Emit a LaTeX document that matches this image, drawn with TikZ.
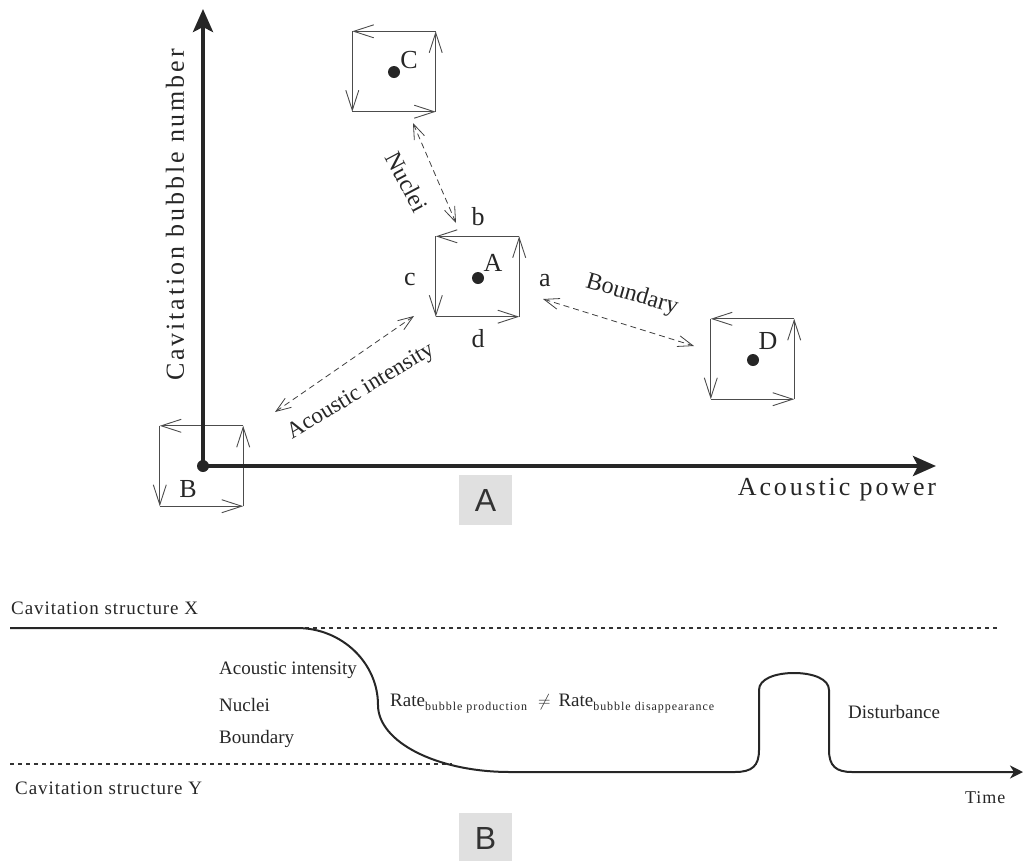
\documentclass[tikz,border=0pt]{standalone}
\usepackage{fontspec}
\setmainfont{Liberation Serif}
\newfontfamily\lsans{Liberation Sans}
\newfontfamily\wide[LetterSpace=11]{Liberation Serif}
\newfontfamily\slight[LetterSpace=5]{Liberation Serif}
\newfontfamily\subsp[LetterSpace=8]{Liberation Serif}
\usetikzlibrary{arrows.meta}
\begin{document}
\begin{tikzpicture}[x=1pt,y=-1pt,
  sq/.style={draw=none, minimum width=83pt, minimum height=80pt, inner sep=0pt},
  side/.style={draw=black!70, line width=0.9pt, -{Straight Barb[length=20pt,width=13pt,line width=0.9pt]}},
  dot/.style={circle, fill=black!85, inner sep=0pt, minimum size=12pt},
  dbl/.style={draw=black!75, line width=0.8pt, dash pattern=on 6pt off 4pt,
     {Straight Barb[length=15pt,width=11pt,line width=0.8pt]}-{Straight Barb[length=15pt,width=11pt,line width=0.8pt]}},
  lbl/.style={font=\fontsize{26}{28}\selectfont, text=black!85, inner sep=0pt},
  alab/.style={font=\fontsize{24}{26}\selectfont, text=black!85, inner sep=0pt},
  axlbl/.style={font=\wide\fontsize{26}{28}\selectfont, text=black!85, inner sep=0pt},
  btxt/.style={font=\fontsize{19}{21}\selectfont, text=black!85, inner sep=0pt, anchor=west},
  stxt/.style={btxt, font=\slight\fontsize{19}{21}\selectfont},
  axis/.style={line width=4pt, draw=black!85, -{Stealth[length=23pt,width=20pt,inset=5pt]}},
  tag/.style={fill=black!12, minimum width=53pt, minimum height=50pt, inner sep=0pt, font=\lsans\fontsize{32}{32}\selectfont, text=black!80},
  curve/.style={line width=2pt, draw=black!85},
  dline/.style={line width=1.3pt, draw=black!80, dash pattern=on 4pt off 4pt}
]
\path[use as bounding box] (0,0) rectangle (1026,860);

% ---------- Part A ----------
% squares
\node[sq] (sqB) at (201.5,466) {};
\node[sq] (sqC) at (394,71.5) {};
\node[sq] (sqA) at (477.5,276.5) {};
\node[sq] (sqD) at (752.5,359) {};
\foreach \s in {sqA,sqB,sqC,sqD}{
  \draw[side] (\s.north east) -- (\s.north west);
  \draw[side] (\s.north west) -- (\s.south west);
  \draw[side] (\s.south west) -- (\s.south east);
  \draw[side] (\s.south east) -- (\s.north east);
}

% axes
\node[dot] (B) at (203,466) {};
\coordinate (ytip) at (203,9);
\coordinate (xtip) at (936,466);
\draw[axis] (B.center) -- (ytip);
\draw[axis] (B.center) -- (xtip);

% dots
\node[dot] (C) at (394,72) {};
\node[dot] (A) at (478,278) {};
\node[dot] (D) at (753,360) {};

% letters
\node[lbl] (lB) at (188,489) {B};
\node[lbl] (lC) at (409,60) {C};
\node[lbl] (lA) at (493,263) {A};
\node[lbl] (lD) at (768,341) {D};
\node[lbl] (la) at (545,281) {a};
\node[lbl] (lb) at (478,217) {b};
\node[lbl] (lc) at (410,279) {c};
\node[lbl] (ld) at (478,339) {d};

% dashed double arrows
\coordinate (n1) at (413,123);
\coordinate (n2) at (456,223);
\draw[dbl] (n1) -- (n2);
\coordinate (i1) at (275,412);
\coordinate (i2) at (414,316);
\draw[dbl] (i1) -- (i2);
\coordinate (b1) at (543,299);
\coordinate (b2) at (694,346);
\draw[dbl] (b1) -- (b2);

\node[alab, rotate=-62] (tN) at (407,182) {Nuclei};
\node[alab, font=\fontsize{23}{25}\selectfont, rotate=31] (tI) at (361,392) {Acoustic intensity};
\node[alab, rotate=-16] (tBd) at (632,295) {Boundary};

% axis labels
\node[axlbl, rotate=90] (ylab) at (175,215) {Cavitation bubble number};
\node[axlbl] (xlab) at (837,490) {Acoustic power};

\node[tag] (tagA) at (485.5,500) {A};

% ---------- Part B ----------
\node[stxt] (sX) at (11,608) {Cavitation structure X};
\node[stxt] (sY) at (15,788) {Cavitation structure Y};

\coordinate (p0) at (10,628);
\coordinate (p1) at (297,628);
\coordinate (p2) at (378,705);
\coordinate (p3) at (510,772);
\coordinate (tt) at (1023,772);
\draw[dline] (p1) -- (1000,628);
\draw[dline] (10,764) -- (452,764);
\draw[curve, -{Stealth[length=13pt,width=13pt,inset=4pt]}]
  (p0) -- (p1) .. controls (342,628) and (378,663) .. (p2)
  .. controls (378,742) and (437,772) .. (p3)
  -- (735,772) .. controls (752,772) and (759,766) .. (759,750)
  -- (759,690) .. controls (759,679) and (775,673) .. (794,673)
  .. controls (813,673) and (829,679) .. (829,690)
  -- (829,750) .. controls (829,766) and (836,772) .. (852,772)
  -- (tt);

\node[btxt] (t1) at (219,670) {Acoustic intensity};
\node[btxt] (t2) at (219,705) {Nuclei};
\node[btxt] (t3) at (219,739) {Boundary};
\node[btxt] (rate) at (390,704)
  {Rate\raisebox{-4pt}{\subsp\fontsize{12}{13}\selectfont bubble production}\,\, $\neq$\, Rate\raisebox{-4pt}{\subsp\fontsize{12}{13}\selectfont bubble disappearance}};
\node[btxt] (dist) at (848,712) {Disturbance};
\node[stxt, font=\slight\fontsize{18}{20}\selectfont] (time) at (965,798) {Time};

\node[tag] (tagB) at (485.5,838) {B};
\end{tikzpicture}
\end{document}
